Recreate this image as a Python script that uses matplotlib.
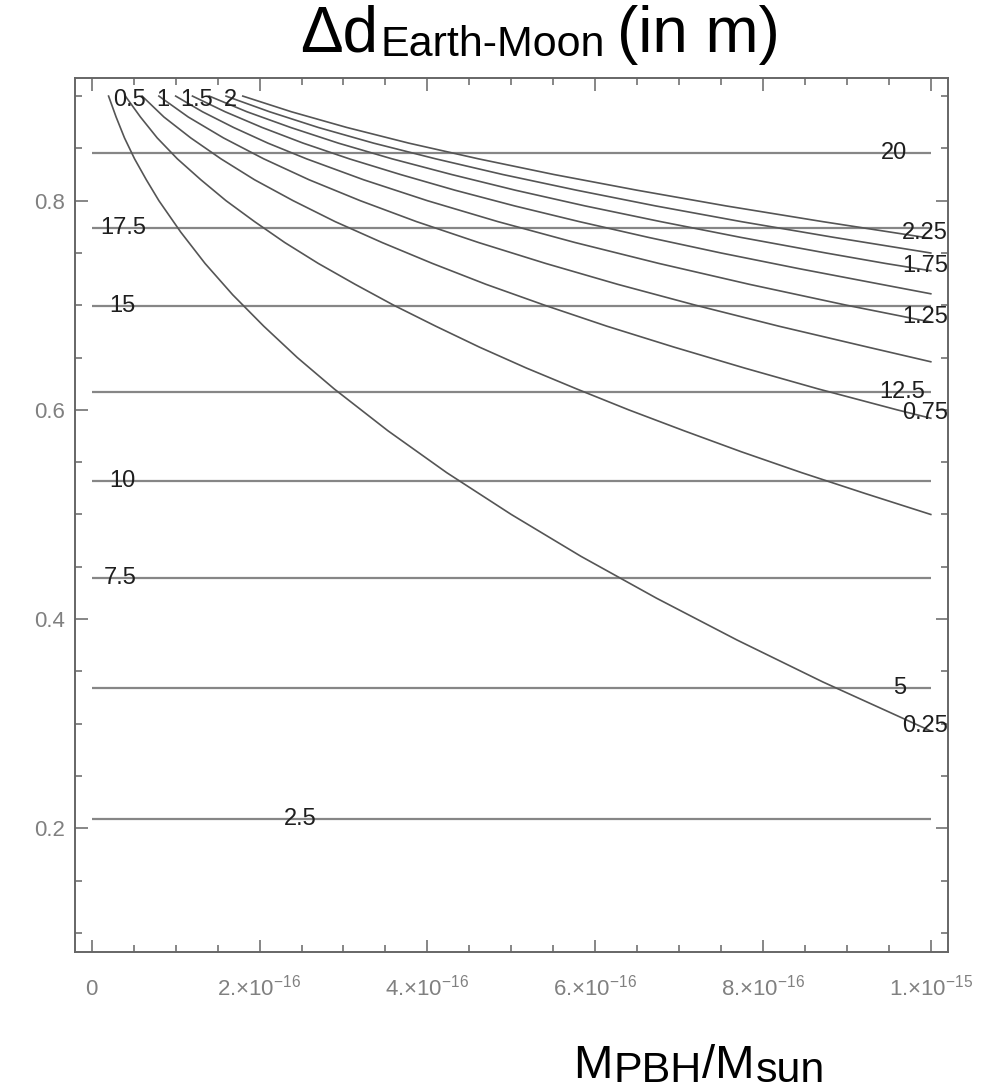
import numpy as np
import matplotlib.pyplot as plt

plt.rcParams['font.family'] = ['Liberation Sans', 'DejaVu Sans']
plt.rcParams['mathtext.fontset'] = 'custom'
plt.rcParams['mathtext.rm'] = 'Liberation Sans'
plt.rcParams['mathtext.it'] = 'Liberation Sans:italic'
plt.rcParams['mathtext.bf'] = 'Liberation Sans:bold'

# ---------------------------------------------------------------
# data  (x in units of 1e-15 M_sun)
# ---------------------------------------------------------------

# horizontal contours: Earth-Moon displacement (m)
h_levels = [2.5, 5, 7.5, 10, 12.5, 15, 17.5, 20]
h_y = [0.209, 0.334, 0.439, 0.532, 0.6175, 0.699, 0.7735, 0.846]
h_label_x = [0.248, 0.963, 0.034, 0.037, 0.966, 0.037, 0.037, 0.956]

# curved contours
y_025 = [0.90, 0.88, 0.86, 0.84, 0.82, 0.80, 0.77, 0.74, 0.71, 0.68, 0.65, 0.62, 0.58, 0.54, 0.50, 0.46, 0.42, 0.38, 0.34, 0.293]
x_025 = [0.020, 0.029, 0.039, 0.051, 0.065, 0.080, 0.106, 0.135, 0.168, 0.205, 0.245, 0.289, 0.353, 0.423, 0.500, 0.583, 0.673, 0.769, 0.871, 1.000]

y_05 = [0.90, 0.88, 0.86, 0.84, 0.82, 0.80, 0.78, 0.76, 0.74, 0.72, 0.70, 0.68, 0.66, 0.64, 0.62, 0.60, 0.58, 0.56, 0.54, 0.52, 0.50]
x_05 = [0.040, 0.058, 0.078, 0.102, 0.130, 0.160, 0.194, 0.230, 0.270, 0.314, 0.360, 0.410, 0.462, 0.518, 0.578, 0.640, 0.706, 0.774, 0.846, 0.922, 1.000]

y_075 = [0.90, 0.88, 0.86, 0.84, 0.82, 0.80, 0.78, 0.76, 0.74, 0.72, 0.70, 0.68, 0.66, 0.64, 0.62, 0.60, 0.592]
x_075 = [0.060, 0.086, 0.118, 0.154, 0.194, 0.240, 0.290, 0.346, 0.406, 0.470, 0.540, 0.614, 0.694, 0.778, 0.866, 0.960, 1.000]

y_1 = [0.90, 0.88, 0.86, 0.84, 0.82, 0.80, 0.78, 0.76, 0.74, 0.72, 0.70, 0.68, 0.66, 0.646]
x_1 = [0.080, 0.115, 0.157, 0.205, 0.259, 0.320, 0.387, 0.461, 0.541, 0.627, 0.720, 0.819, 0.925, 1.000]

y_125 = [0.90, 0.885, 0.87, 0.855, 0.84, 0.82, 0.80, 0.78, 0.76, 0.74, 0.72, 0.70, 0.684]
x_125 = [0.100, 0.132, 0.169, 0.210, 0.256, 0.324, 0.400, 0.484, 0.576, 0.676, 0.784, 0.900, 1.000]

y_15 = [0.90, 0.885, 0.87, 0.855, 0.84, 0.825, 0.81, 0.795, 0.78, 0.765, 0.75, 0.735, 0.72, 0.711]
x_15 = [0.120, 0.159, 0.203, 0.252, 0.307, 0.368, 0.433, 0.504, 0.581, 0.663, 0.750, 0.843, 0.941, 1.000]

y_175 = [0.90, 0.885, 0.87, 0.855, 0.84, 0.825, 0.81, 0.795, 0.78, 0.765, 0.75, 0.74, 0.733]
x_175 = [0.140, 0.185, 0.237, 0.294, 0.358, 0.429, 0.505, 0.588, 0.678, 0.773, 0.875, 0.946, 1.000]

y_2 = [0.90, 0.885, 0.87, 0.855, 0.84, 0.825, 0.81, 0.795, 0.78, 0.765, 0.75]
x_2 = [0.160, 0.212, 0.270, 0.336, 0.410, 0.490, 0.578, 0.672, 0.774, 0.884, 1.000]

y_225 = [0.90, 0.885, 0.87, 0.855, 0.84, 0.825, 0.81, 0.795, 0.78, 0.764]
x_225 = [0.180, 0.238, 0.304, 0.378, 0.461, 0.551, 0.650, 0.756, 0.871, 1.000]

curve_levels = [0.25, 0.5, 0.75, 1, 1.25, 1.5, 1.75, 2, 2.25]
curves = [(x_025, y_025), (x_05, y_05), (x_075, y_075), (x_1, y_1), (x_125, y_125),
          (x_15, y_15), (x_175, y_175), (x_2, y_2), (x_225, y_225)]
# where each curve gets its label: at its top end or at its right end
curve_label_end = ['right', 'top', 'right', 'top', 'right', 'top', 'right', 'top', 'right']

xtick_vals = [0, 0.2, 0.4, 0.6, 0.8, 1.0]
xtick_text = ['0',
              '2.\u00d710$^{-16}$',
              '4.\u00d710$^{-16}$',
              '6.\u00d710$^{-16}$',
              '8.\u00d710$^{-16}$',
              '1.\u00d710$^{-15}$']
ytick_vals = [0.2, 0.4, 0.6, 0.8]

# ---------------------------------------------------------------
# figure
# ---------------------------------------------------------------
W, H = 1007, 1090
fig = plt.figure(figsize=(W / 100, H / 100), dpi=100)
ax = fig.add_axes([75 / W, 1 - 952 / H, 873 / W, 874 / H])

line_grey = '#868686'
curve_grey = '#555555'
label_col = '#1e1e1e'

for lev, yv in zip(h_levels, h_y):
    ax.plot([0, 1.0], [yv, yv], color=line_grey, lw=1.6, solid_capstyle='butt')

for (xs, ys) in curves:
    ax.plot(xs, ys, color=curve_grey, lw=1.2)

# contour labels
for lev, yv, lx in zip(h_levels, h_y, h_label_x):
    ax.text(lx, yv, f'{lev:g}', ha='center', va='center', fontsize=17,
            color=label_col, clip_on=True)

for lev, (xs, ys), where in zip(curve_levels, curves, curve_label_end):
    if where == 'top':
        ax.annotate(f'{lev:g}', xy=(xs[0], ys[0]), xytext=(3, -3),
                    textcoords='offset points', ha='center', va='center',
                    fontsize=17, color=label_col, clip_on=True)
    else:
        ax.annotate(f'{lev:g}', xy=(xs[-1], ys[-1]), xytext=(-4, 3.5),
                    textcoords='offset points', ha='center', va='center',
                    fontsize=17, color=label_col, clip_on=True)

ax.set_xlim(-0.02, 1.0205)
ax.set_ylim(0.0817, 0.9173)

ax.set_xticks(xtick_vals)
ax.set_xticklabels(xtick_text)
ax.set_xticks(np.arange(0, 1.001, 0.05), minor=True)
ax.set_yticks(ytick_vals)
ax.set_yticklabels([f'{v:g}' for v in ytick_vals])
ax.set_yticks(np.arange(0.1, 0.901, 0.05), minor=True)

ax.tick_params(which='both', direction='in', top=True, right=True,
               color='#666666', width=1.1, labelcolor='#808080', labelsize=16)
ax.tick_params(which='major', length=9)
ax.tick_params(which='minor', length=5)
ax.tick_params(axis='y', pad=7)
ax.tick_params(axis='x', pad=31)
for lbl in ax.get_xticklabels():
    lbl.set_verticalalignment('baseline')

for sp in ax.spines.values():
    sp.set_color('#666666')
    sp.set_linewidth(1.4)

# title and axis label built from pieces so the subscripts sit right
renderer = fig.canvas.get_renderer()


def text_run(x_px, y_px, pieces):
    x = x_px
    for s, size, dy, gap in pieces:
        x += gap
        t = fig.text(x / W, 1 - (y_px + dy) / H, s, fontsize=size,
                     ha='left', va='baseline', color='black')
        x += t.get_window_extent(renderer).width


text_run(300, 52, [('\u0394d', 46, 0, 0),
                   ('Earth-Moon', 31, 4, 2),
                   ('(in m)', 46, 0, 13)])
text_run(573, 1078, [('M', 34, 0, 0),
                     ('PBH', 31, 4, 1),
                     ('/M', 34, 0, 0),
                     ('sun', 31, 4, 2)])

fig.savefig('out.png', dpi=100, facecolor='white')
